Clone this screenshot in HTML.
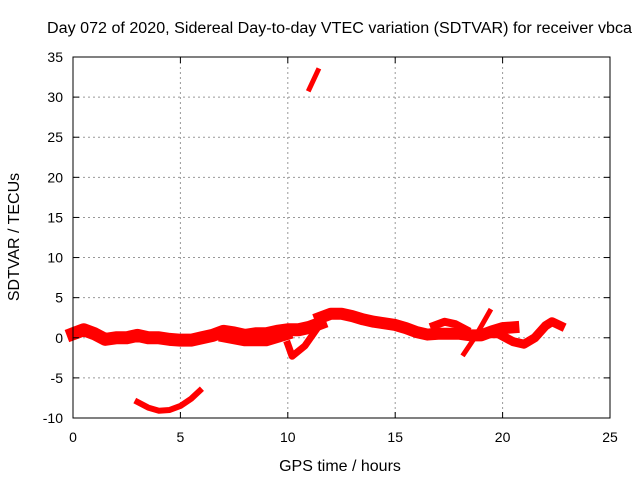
<!DOCTYPE html>
<html><head><meta charset="utf-8"><style>
body{margin:0;background:#fff;}
svg{display:block;font-family:"Liberation Sans",sans-serif;}
</style></head><body>
<svg id="c" width="640" height="480" viewBox="0 0 640 480">
<text x="47" y="33" font-size="15.5" textLength="585" lengthAdjust="spacingAndGlyphs" text-anchor="start">Day 072 of 2020, Sidereal Day-to-day VTEC variation (SDTVAR) for receiver vbca</text>
<text x="340" y="471" font-size="16" text-anchor="middle">GPS time / hours</text>
<text x="19" y="237" font-size="16" text-anchor="middle" transform="rotate(-90 19 237)">SDTVAR / TECUs</text>
<g id="grid"></g><g id="marks"></g><g id="axes"></g>
</svg>
<script>
const xTicks=[0,5,10,15,20,25];
const yTicks=[-10,-5,0,5,10,15,20,25,30,35];
const mainA=[[0,0.5],[0.5,1],[1,0.5],[1.5,-0.2],[2,0],[2.5,0],[3,0.3],[3.5,0],[4,0],[4.5,-0.2],[5,-0.3],[5.5,-0.3],[6,0],[6.5,0.3],[7,0.8],[7.5,0.6],[8,0.3],[8.5,0.5],[9,0.5],[9.5,0.8],[10,1],[10.5,1],[11,1.3],[11.5,1.8]];
const lowerB=[[7,0],[8,-0.5],[9,-0.5],[10,0.3]];
const dipC=[[10,-0.8],[10.2,-2.3],[10.8,-1],[11.4,1.3]];
const bottomD=[[3,-8],[3.5,-8.7],[4,-9.1],[4.5,-9],[5,-8.5],[5.5,-7.6],[5.9,-6.6]];
const spikeE=[[11,31],[11.4,33.3]];
const upperF=[[11.5,2.5],[12,3],[12.5,3],[13,2.7],[13.5,2.3],[14,2],[14.5,1.8],[15,1.6],[15.5,1.2],[16,0.7],[16.5,0.4],[17,0.5],[17.5,0.5],[18,0.5],[18.5,0.3],[19,0.3],[19.5,0.8],[20,1.2],[20.5,1.3]];
const bumpG=[[16.8,1.5],[17.3,2],[17.8,1.7],[18.3,1]];
const spikeH=[[18.2,-2],[18.7,0],[19.4,3.3]];
const dipI=[[19,0.5],[19.8,0.5],[20.5,-0.5],[21,-0.8],[21.5,0],[22,1.5],[22.3,2],[22.7,1.5]];
const X0=73,X1=610,Y0=418,Y1=57;
const xs=h=>X0+(h-0)/(25)*(X1-X0);
const ys=v=>Y0-(v+10)/45*(Y0-Y1);
const NS="http://www.w3.org/2000/svg";
const grid=document.getElementById('grid'),marks=document.getElementById('marks'),axes=document.getElementById('axes');
function mk(t,a,p){const e=document.createElementNS(NS,t);for(const k in a)e.setAttribute(k,a[k]);p.appendChild(e);return e;}
xTicks.forEach(t=>{
 if(t>0&&t<25){const g=mk('line',{x1:xs(t),x2:xs(t),y1:Y1,y2:Y0,stroke:'#999','stroke-dasharray':'2,3'},grid);
 
 }
 mk('line',{x1:xs(t),x2:xs(t),y1:Y0,y2:Y0-6,stroke:'#000'},axes);
 mk('line',{x1:xs(t),x2:xs(t),y1:Y1,y2:Y1+6,stroke:'#000'},axes);
 const l=mk('text',{x:xs(t),y:Y0+24,'font-size':14,'text-anchor':'middle'},axes);l.textContent=t;
 
 
});
yTicks.forEach(t=>{
 if(t>-10&&t<35){const g=mk('line',{x1:X0,x2:X1,y1:ys(t),y2:ys(t),stroke:'#999','stroke-dasharray':'2,3'},grid);
 
 }
 mk('line',{x1:X0,x2:X0+6,y1:ys(t),y2:ys(t),stroke:'#000'},axes);
 mk('line',{x1:X1,x2:X1-6,y1:ys(t),y2:ys(t),stroke:'#000'},axes);
 const l=mk('text',{x:X0-10,y:ys(t)+5,'font-size':14,'text-anchor':'end'},axes);l.textContent=t;
 
 
});
const fr=mk('rect',{x:X0,y:Y1,width:X1-X0,height:Y0-Y1,fill:'none',stroke:'#000'},axes);


function series(d,w,name){
 const p=mk('polyline',{points:d.map(q=>xs(q[0])+','+ys(q[1])).join(' '),fill:'none',stroke:'#f00','stroke-width':w,'stroke-linejoin':'round','stroke-linecap':'square'},marks);
 
 
}
series(mainA,13,'series-main-early');
series(lowerB,9,'series-lower-band');
series(dipC,7,'series-dip-10h');
series(bottomD,6,'series-bottom-arc');
series(spikeE,5,'series-spike-11h');
series(upperF,12,'series-main-late');
series(bumpG,8,'series-bump-17h');
series(spikeH,5,'series-spike-19h');
series(dipI,9,'series-dip-21h');
</script>
</body></html>
